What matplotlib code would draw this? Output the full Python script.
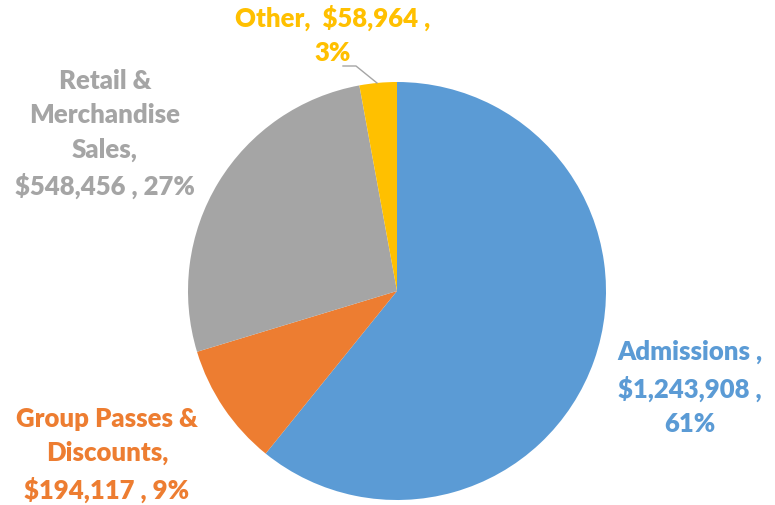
import matplotlib.pyplot as plt

names = ["Admissions", "Group Passes &\nDiscounts", "Retail &\nMerchandise\nSales", "Other"]
values = [1243908, 194117, 548456, 58964]
colors = ["#5B9BD5", "#ED7D31", "#A5A5A5", "#FFC000"]

W, H = 775, 506
fig = plt.figure(figsize=(W / 100, H / 100), dpi=100)
ax = fig.add_axes([0, 0, 1, 1])

cx, cy, r = 397, H - 292, 209
ax.pie(values, colors=colors, startangle=90, counterclock=False,
       center=(cx, cy), radius=r, frame=True,
       wedgeprops=dict(linewidth=0))
ax.set_xlim(0, W)
ax.set_ylim(0, H)
ax.set_aspect("equal")
ax.axis("off")

total = sum(values)
pcts = [round(v / total * 100) for v in values]

texts = [
    f"{names[0]} ,\n${values[0]:,} ,\n{pcts[0]}%",
    f"{names[1]},\n${values[1]:,} , {pcts[1]}%",
    f"{names[2]},\n${values[2]:,} , {pcts[2]}%",
    f"{names[3]},  ${values[3]:,} ,\n{pcts[3]}%",
]
# label centres in pixel space (x, y from top)
pos = [(690, 388), (107, 455), (105, 134), (333, 35)]

for t, (px, py), c in zip(texts, pos, colors):
    ax.text(px, H - py, t, ha="center", va="center", color=c,
            fontsize=18.5, fontweight="heavy", family="Lato", linespacing=1.52)

ax.plot([343, 356, 377], [H - 67, H - 67, H - 84], color="#A5A5A5", lw=1)

fig.savefig("out.png", dpi=100)
